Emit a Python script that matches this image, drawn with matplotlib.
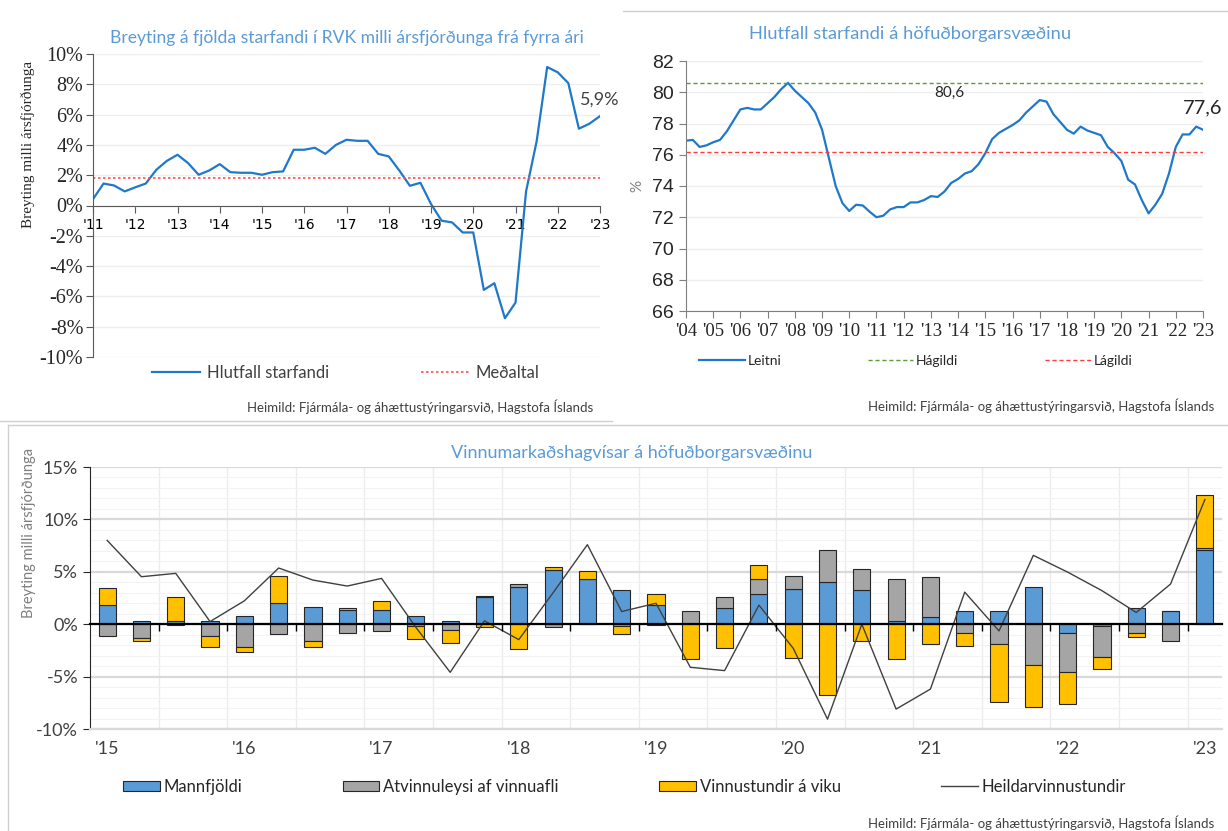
import matplotlib.pyplot as plt
from matplotlib.lines import Line2D
from matplotlib.patches import Patch
import numpy as np

W, H = 1228, 831
SANS = ['Lato', 'DejaVu Sans']
SERIF = ['Liberation Serif', 'DejaVu Serif']
ARIAL = ['Liberation Sans', 'DejaVu Sans']

# ---- data: panel 1, breyting starfandi (quarterly 2011Q1-2023Q1), %
breyting = [0.42, 1.45, 1.32, 0.93, 1.2, 1.45, 2.36, 2.95, 3.35, 2.8, 2.03, 2.31,
            2.73, 2.2, 2.16, 2.16, 2.03, 2.2, 2.25, 3.68, 3.68, 3.81, 3.41, 4.0,
            4.34, 4.27, 4.27, 3.41, 3.24, 2.31, 1.3, 1.5, 0.1, -1.0, -1.12, -1.78,
            -1.78, -5.57, -5.13, -7.44, -6.41, 0.93, 4.23, 9.14, 8.79, 8.08, 5.07, 5.4, 5.9]
medaltal = 1.8
ar1 = ["'11", "'12", "'13", "'14", "'15", "'16", "'17", "'18", "'19", "'20", "'21", "'22", "'23"]

# ---- data: panel 2, hlutfall starfandi (quarterly 2004Q1-2023Q1), %
leitni = [76.9, 76.95, 76.5, 76.6, 76.8, 76.95, 77.5, 78.2, 78.9, 79.0, 78.9, 78.9,
          79.3, 79.7, 80.2, 80.6, 80.1, 79.7, 79.3, 78.7, 77.6, 75.8, 74.0, 72.9,
          72.4, 72.8, 72.75, 72.35, 72.0, 72.1, 72.5, 72.65, 72.65, 72.95, 72.95, 73.1,
          73.35, 73.3, 73.65, 74.2, 74.45, 74.8, 74.95, 75.4, 76.1, 77.0, 77.4, 77.65,
          77.9, 78.2, 78.7, 79.1, 79.5, 79.4, 78.6, 78.1, 77.6, 77.35, 77.8, 77.55,
          77.4, 77.25, 76.5, 76.1, 75.6, 74.4, 74.1, 73.1, 72.25, 72.8, 73.5, 74.8,
          76.5, 77.3, 77.3, 77.8, 77.6]
hagildi = 80.6
lagildi = 76.2
ar2 = ["'04", "'05", "'06", "'07", "'08", "'09", "'10", "'11", "'12", "'13",
       "'14", "'15", "'16", "'17", "'18", "'19", "'20", "'21", "'22", "'23"]

# ---- data: panel 3, vinnumarkaðshagvísar (quarterly 2015Q1-2023Q1), %
mannfjoldi = [1.82, 0.29, 0.3, 0.35, 0.77, 2.04, 1.66, 1.34, 1.34, 0.77, 0.35, 2.61,
              3.57, 5.13, 4.3, 3.25, 1.79, 0.0, 1.53, 2.87, 3.35, 4.02, 3.25, 0.29,
              0.67, 1.24, 1.24, 3.51, -0.86, -0.2, 1.5, 1.24, 7.08]
atvinnuleysi = [-1.15, -1.3, -0.1, -1.15, -2.14, -0.89, -1.63, -0.85, -0.64, -0.2, -0.57, 0.1,
                0.22, -0.29, 0.0, -0.2, -0.1, 1.28, 1.05, 1.43, 1.24, 3.06, 1.98, 4.0,
                3.8, -0.86, -1.91, -3.92, -3.73, -2.96, -0.86, -1.56, 0.22]
vinnustundir = [1.62, -0.27, 2.28, -1.02, -0.54, 2.55, -0.54, 0.25, 0.83, -1.2, -1.25, -0.3,
                -2.39, 0.32, 0.8, -0.75, 1.08, -3.35, -2.3, 1.34, -3.22, -6.79, -1.56, -3.35,
                -1.88, -1.21, -5.49, -4.02, -3.06, -1.14, -0.35, 0.0, 5.04]
heildar = [8.0, 4.53, 4.85, 0.25, 2.23, 5.36, 4.21, 3.64, 4.37, -0.3, -4.59, 0.32,
           -1.47, 3.0, 7.59, 1.21, 2.0, -4.11, -4.43, 1.82, -2.3, -9.06, 0.0, -8.1,
           -6.19, 3.06, -0.64, 6.57, 4.97, 3.2, 1.12, 3.83, 11.89]
ar3 = ["'15", "'16", "'17", "'18", "'19", "'20", "'21", "'22", "'23"]

BLUE = '#1f78c8'
TITLE = '#5b9bd5'
TXT = '#404040'


def box(x, y, w, h):
    # pixel box (top-left origin) -> figure fraction
    return [x / W, 1 - (y + h) / H, w / W, h / H]


fig = plt.figure(figsize=(W / 100, H / 100), dpi=100)

# light frame lines of the pasted charts
frame = dict(color='#d0d0d0', lw=1, transform=fig.transFigure)
fig.add_artist(Line2D([623 / W, 1], [1 - 11 / H] * 2, **frame))
fig.add_artist(Line2D([0, 612 / W], [1 - 421 / H] * 2, **frame))
fig.add_artist(Line2D([8 / W, 1], [1 - 425 / H] * 2, **frame))
fig.add_artist(Line2D([8 / W] * 2, [0, 1 - 425 / H], **frame))

# ================= panel 1 =================
ax1 = fig.add_axes(box(93, 54, 507, 303))
x1 = np.arange(len(breyting))
ax1.plot(x1, breyting, color=BLUE, lw=1.6)
ax1.axhline(medaltal, color='#ff5050', lw=1.2, ls=(0, (1.5, 1.5)))
ax1.set_xlim(0, len(breyting) - 1)
ax1.set_ylim(-10, 10)
ax1.set_yticks(np.arange(-10, 11, 2))
ax1.set_yticklabels([f'{v}%' for v in range(-10, 11, 2)], fontfamily=SERIF, fontsize=14.5, color='#262626')
ax1.set_xticks(np.arange(0, len(breyting), 4))
ax1.set_xticklabels(ar1, fontfamily=SERIF, fontsize=14.5, color='#262626')
ax1.spines['bottom'].set_position(('data', 0))
for s in ['top', 'right']:
    ax1.spines[s].set_visible(False)
ax1.spines['bottom'].set_color('#595959')
ax1.spines['left'].set_color('#595959')
ax1.tick_params(axis='x', length=5, pad=4, color='#595959')
ax1.tick_params(axis='y', length=5, pad=2, color='#595959')
ax1.grid(axis='y', color='#eeeeee', lw=1)
ax1.set_axisbelow(True)
ax1.set_ylabel('Breyting milli ársfjórðunga', fontfamily=SERIF, fontsize=11, color='#262626')
ax1.yaxis.set_label_coords(-0.114, 0.70)
ax1.text(x1[-1], breyting[-1] + 1.1, f'{breyting[-1]:.1f}%'.replace('.', ','),
         ha='center', va='center', fontfamily=SANS, fontsize=13, color=TXT)
fig.text(347 / W, 1 - 38 / H, 'Breyting á fjölda starfandi í RVK milli ársfjórðunga frá fyrra ári',
         ha='center', va='center', fontfamily=SANS, fontsize=12.6, color=TITLE)
h1 = [Line2D([], [], color=BLUE, lw=1.6), Line2D([], [], color='#ff5050', lw=1.2, ls=(0, (1.5, 1.5)))]
fig.legend(h1, ['Hlutfall starfandi', 'Meðaltal'], loc='center left', bbox_to_anchor=(152 / W, 1 - 373 / H),
           ncol=2, frameon=False, borderpad=0, borderaxespad=0, handlelength=2.9, handletextpad=0.4,
           columnspacing=5.5, prop={'family': SANS, 'size': 12}, labelcolor=TXT)
fig.text(593 / W, 1 - 407 / H, 'Heimild: Fjármála- og áhættustýringarsvið, Hagstofa Íslands',
         ha='right', va='center', fontfamily=SANS, fontsize=9.5, color=TXT)

# ================= panel 2 =================
ax2 = fig.add_axes(box(686, 61, 517, 250))
x2 = np.arange(len(leitni))
ax2.plot(x2, leitni, color=BLUE, lw=1.6)
ax2.axhline(hagildi, color='#5a9e32', lw=1, ls=(0, (3, 2)))
ax2.axhline(lagildi, color='#ff3b3b', lw=1, ls=(0, (3, 2)))
ax2.set_xlim(0, len(leitni) - 1)
ax2.set_ylim(66, 82)
ax2.set_yticks(np.arange(66, 83, 2))
ax2.set_yticklabels([str(v) for v in range(66, 83, 2)], fontfamily=ARIAL, fontsize=14, color='#262626')
ax2.set_xticks(np.arange(0, len(leitni), 4))
ax2.set_xticklabels(ar2, fontfamily=SERIF, fontsize=13.5, color='#262626')
for s in ['top', 'right']:
    ax2.spines[s].set_visible(False)
ax2.spines['bottom'].set_color('#7f7f7f')
ax2.spines['left'].set_color('#7f7f7f')
ax2.tick_params(length=5, color='#7f7f7f')
ax2.tick_params(axis='x', pad=4)
ax2.grid(axis='y', color='#eeeeee', lw=1)
ax2.set_axisbelow(True)
ax2.set_ylabel('%', fontfamily=SANS, fontsize=11, color='#7f7f7f', labelpad=6)
ax2.text(38.7, hagildi - 0.65, f'{hagildi:.1f}'.replace('.', ','), ha='center', va='center',
         fontfamily=SANS, fontsize=11, color='#262626')
ax2.text(x2[-1], leitni[-1] + 1.4, f'{leitni[-1]:.1f}'.replace('.', ','), ha='center', va='center',
         fontfamily=SANS, fontsize=14.5, color='#262626')
fig.text(910 / W, 1 - 34 / H, 'Hlutfall starfandi á höfuðborgarsvæðinu',
         ha='center', va='center', fontfamily=SANS, fontsize=13.2, color=TITLE)
h2 = [Line2D([], [], color=BLUE, lw=1.6), Line2D([], [], color='#5a9e32', lw=1, ls=(0, (3, 2))),
      Line2D([], [], color='#ff3b3b', lw=1, ls=(0, (3, 2)))]
fig.legend(h2, ['Leitni', 'Hágildi', 'Lágildi'], loc='center left', bbox_to_anchor=(699 / W, 1 - 361 / H),
           ncol=3, frameon=False, borderpad=0, borderaxespad=0, handlelength=3.3, handletextpad=0.2,
           columnspacing=6.2, prop={'family': SANS, 'size': 10}, labelcolor='#262626')
fig.text(1214 / W, 1 - 406 / H, 'Heimild: Fjármála- og áhættustýringarsvið, Hagstofa Íslands',
         ha='right', va='center', fontfamily=SANS, fontsize=9.5, color=TXT)

# ================= panel 3 =================
ax3 = fig.add_axes(box(90, 467, 1132, 262))
x3 = np.arange(len(mannfjoldi))
pos_base = np.zeros(len(x3))
neg_base = np.zeros(len(x3))
series = [(mannfjoldi, '#5b9bd5', 'Mannfjöldi'),
          (atvinnuleysi, '#a5a5a5', 'Atvinnuleysi af vinnuafli'),
          (vinnustundir, '#ffc000', 'Vinnustundir á viku')]
handles3 = []
for vals, col, lab in series:
    v = np.array(vals)
    base = np.where(v >= 0, pos_base, neg_base)
    ax3.bar(x3, v, 0.5, bottom=base, color=col, edgecolor='#262626', lw=0.8, zorder=3)
    pos_base = pos_base + np.where(v > 0, v, 0)
    neg_base = neg_base + np.where(v < 0, v, 0)
    handles3.append(Patch(facecolor=col, edgecolor='#262626', lw=0.8))
ax3.plot(x3, heildar, color='#404040', lw=1, zorder=4)
handles3.append(Line2D([], [], color='#404040', lw=1))

ylo, yhi = -10, 15
ax3.set_ylim(ylo, yhi)
ax3.set_xlim(-0.5, len(x3) - 0.5)
ax3.set_yticks(np.arange(ylo, yhi + 1, 5))
ax3.set_yticks(np.arange(ylo, yhi + 1, 1), minor=True)
ax3.set_yticklabels([f'{v}%' for v in range(ylo, yhi + 1, 5)], fontfamily=SANS, fontsize=13, color=TXT)
ax3.tick_params(axis='y', which='major', length=5, color='#262626')
ax3.tick_params(axis='y', which='minor', length=0)
ax3.grid(axis='y', which='major', color='#d9d9d9', lw=1.6, zorder=0)
ax3.grid(axis='y', which='minor', color='#f3f3f3', lw=0.8, zorder=0)
for xv in np.arange(1.5, len(x3) - 0.5, 2):
    ax3.axvline(xv, color='#ececec', lw=1, zorder=0)
ax3.set_xticks(np.arange(0, len(x3), 4))
ax3.set_xticklabels(ar3, fontfamily=SANS, fontsize=13, color=TXT)
ax3.tick_params(axis='x', length=0, pad=9)
for s in ['top', 'right']:
    ax3.spines[s].set_visible(False)
ax3.spines['bottom'].set_color('#d9d9d9')
ax3.spines['bottom'].set_linewidth(1.6)
ax3.spines['left'].set_color('#262626')
ax3.set_axisbelow(True)
zero_axis = ax3.secondary_xaxis((0 - ylo) / (yhi - ylo))
zero_axis.set_xticks(np.arange(1.5, len(x3) - 0.5, 2))
zero_axis.set_xticklabels([])
zero_axis.tick_params(length=5, color='#000000', width=1)
zero_axis.spines['bottom'].set_linewidth(1.6)
zero_axis.spines['bottom'].set_color('#000000')
zero_axis.set_zorder(5)
ax3.set_ylabel('Breyting milli ársfjórðunga', fontfamily=SANS, fontsize=10.5, color='#7f7f7f')
ax3.yaxis.set_label_coords(-0.048, 0.75)
fig.text(632 / W, 1 - 453 / H, 'Vinnumarkaðshagvísar á höfuðborgarsvæðinu',
         ha='center', va='center', fontfamily=SANS, fontsize=13, color=TITLE)
fig.legend(handles3, ['Mannfjöldi', 'Atvinnuleysi af vinnuafli', 'Vinnustundir á viku', 'Heildarvinnustundir'],
           loc='center left', bbox_to_anchor=(123 / W, 1 - 787 / H), ncol=4, frameon=False, borderpad=0,
           borderaxespad=0, handlelength=2.2, handleheight=0.6, handletextpad=0.25, columnspacing=6.0,
           prop={'family': SANS, 'size': 12}, labelcolor='#262626')
fig.text(1214 / W, 1 - 823 / H, 'Heimild: Fjármála- og áhættustýringarsvið, Hagstofa Íslands',
         ha='right', va='center', fontfamily=SANS, fontsize=9.5, color=TXT)

fig.savefig('out.png', dpi=100)
